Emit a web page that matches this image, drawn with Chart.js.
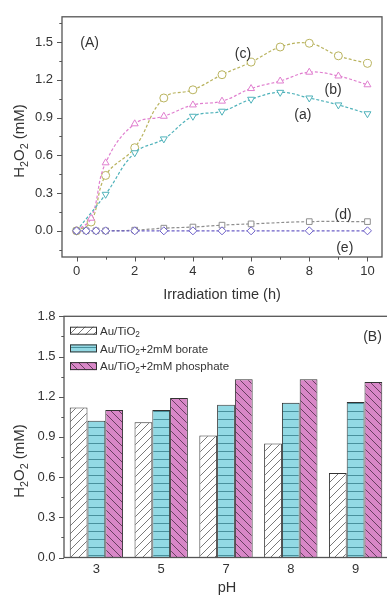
<!DOCTYPE html>
<html>
<head>
<meta charset="utf-8">
<script src="https://cdn.jsdelivr.net/npm/chart.js@4.4.1/dist/chart.umd.min.js"></script>
<style>
  html, body { margin: 0; padding: 0; background: #fff; overflow: hidden; }
  #wrap { position: relative; width: 387px; height: 598px; overflow: hidden; }
  #c1 { position: absolute; left: 0; top: 0; }
  #c2 { position: absolute; left: 0; top: 300px; }
</style>
</head>
<body>
<div id="wrap">
  <canvas id="c1" width="387" height="310"></canvas>
  <canvas id="c2" width="392" height="298"></canvas>
</div>
<script>
// ---------- DATA (panel A) ----------
const timeABC = [0, 0.5, 1, 2, 3, 4, 5, 6, 7, 8, 9, 10];
const timeA   = [0, 1, 2, 3, 4, 5, 6, 7, 8, 9, 10];
const timeDE  = [0, 0.33, 0.67, 1, 2, 3, 4, 5, 6, 8, 10];
const seriesA = [0, 0.29, 0.62, 0.73, 0.91, 0.95, 1.045, 1.10, 1.055, 1.00, 0.93];
const seriesB = [0, 0.10, 0.54, 0.85, 0.91, 1.00, 1.03, 1.13, 1.19, 1.26, 1.23, 1.16];
const seriesC = [0, 0.07, 0.44, 0.66, 1.055, 1.12, 1.24, 1.34, 1.46, 1.49, 1.39, 1.33];
const seriesD = [0, 0, 0, 0, 0.005, 0.021, 0.03, 0.045, 0.055, 0.073, 0.073];
const seriesE = [0, 0, 0, 0, 0, 0, 0, 0, 0, 0, 0];
const xTicksA = [0, 2, 4, 6, 8, 10];
const xMinorA = [1, 3, 5, 7, 9];
const yTicksA = [0, 0.3, 0.6, 0.9, 1.2, 1.5];
const yMinorA = [-0.15, 0.15, 0.45, 0.75, 1.05, 1.35, 1.65];

// ---------- DATA (panel B) ----------
const pHLabels = ['3', '5', '7', '8', '9'];
const barAuTiO2 = [1.12, 1.01, 0.91, 0.85, 0.63];
const barBorate = [1.02, 1.10, 1.14, 1.155, 1.16];
const barPhosphate = [1.10, 1.19, 1.33, 1.33, 1.31];
const yTicksB = [0, 0.3, 0.6, 0.9, 1.2, 1.5, 1.8];
const yMinorB = [0.15, 0.45, 0.75, 1.05, 1.35, 1.65];
const legendB = ['Au/TiO_2', 'Au/TiO_2+2mM borate', 'Au/TiO_2+2mM phosphate'];

const FONT = '"Liberation Sans", Arial, sans-serif';
const TXT = '#333';
const FRAME = '#555';

function pts(xs, ys) { return xs.map((x, i) => ({ x: x, y: ys[i] })); }

// rich text with "_d" subscripts
function drawRich(ctx, str, x, y, size, rot, align) {
  const parts = str.split(/(_\d)/).filter(s => s.length);
  const nf = size + 'px ' + FONT, sf = (size * 0.72) + 'px ' + FONT;
  ctx.save();
  ctx.translate(x, y);
  ctx.rotate(rot || 0);
  ctx.textBaseline = 'alphabetic';
  ctx.textAlign = 'left';
  let total = 0;
  const ws = parts.map(p => {
    const sub = p[0] === '_';
    ctx.font = sub ? sf : nf;
    const w = ctx.measureText(sub ? p.slice(1) : p).width;
    total += w;
    return w;
  });
  let cx = align === 'left' ? 0 : -total / 2;
  const base = size * 0.36;
  parts.forEach((p, i) => {
    const sub = p[0] === '_';
    ctx.font = sub ? sf : nf;
    ctx.fillStyle = TXT;
    ctx.fillText(sub ? p.slice(1) : p, cx, sub ? base + size * 0.22 : base);
    cx += ws[i];
  });
  ctx.restore();
}

function drawTicks(ctx, scale, values, len, horizontal, area) {
  ctx.save();
  ctx.strokeStyle = FRAME;
  ctx.lineWidth = 1;
  ctx.beginPath();
  values.forEach(v => {
    const p = Math.round(scale.getPixelForValue(v)) + 0.5;
    if (horizontal) { ctx.moveTo(p, area.bottom); ctx.lineTo(p, area.bottom + len); }
    else { ctx.moveTo(area.left, p); ctx.lineTo(area.left - len, p); }
  });
  ctx.stroke();
  ctx.restore();
}

function drawFrame(ctx, a) {
  ctx.save();
  ctx.strokeStyle = FRAME;
  ctx.lineWidth = 1.3;
  ctx.strokeRect(a.left, a.top, a.right - a.left, a.bottom - a.top);
  ctx.restore();
}

const noGrid = { display: false, drawTicks: false, tickLength: 0 };

// ---------- PANEL A ----------
const decoA = {
  id: 'decoA',
  afterDraw(chart) {
    const ctx = chart.ctx, a = chart.chartArea;
    const xs = chart.scales.x, ys = chart.scales.y;
    drawFrame(ctx, a);
    drawTicks(ctx, xs, xTicksA, 4.5, true, a);
    drawTicks(ctx, xs, xMinorA, 2.7, true, a);
    drawTicks(ctx, ys, yTicksA, 5, false, a);
    drawTicks(ctx, ys, yMinorA, 2.7, false, a);
    const notes = [['(A)', 0.45, 1.50], ['(c)', 5.72, 1.41], ['(b)', 8.82, 1.123],
                   ['(a)', 7.78, 0.932], ['(d)', 9.16, 0.134], ['(e)', 9.22, -0.129]];
    notes.forEach(n => drawRich(ctx, n[0], xs.getPixelForValue(n[1]), ys.getPixelForValue(n[2]), 14, 0));
    drawRich(ctx, 'Irradiation time (h)', (a.left + a.right) / 2, 294, 14.5, 0);
    drawRich(ctx, 'H_2O_2 (mM)', 19, 141, 15, -Math.PI / 2);
  }
};

function lineDs(label, data, color, style, rot) {
  return {
    label: label, data: data, borderColor: color, borderWidth: 1.2, borderDash: [3, 2],
    pointStyle: style, pointRotation: rot || 0, pointRadius: 4, pointBorderWidth: 1,
    pointBorderColor: color, pointBackgroundColor: '#fff', tension: 0.4, fill: false
  };
}

new Chart(document.getElementById('c1'), {
  type: 'line',
  data: {
    datasets: [
      lineDs('(e)', pts(timeDE, seriesE), '#6d60c8', 'rectRot'),
      lineDs('(d)', pts(timeDE, seriesD), '#8e8e8e', 'rect'),
      lineDs('(a)', pts(timeA, seriesA), '#4fb2ba', 'triangle', 180),
      lineDs('(b)', pts(timeABC, seriesB), '#e07fcf', 'triangle'),
      lineDs('(c)', pts(timeABC, seriesC), '#b9b35e', 'circle')
    ]
  },
  options: {
    responsive: false, animation: false, devicePixelRatio: 1,
    layout: { padding: { top: 14, right: 1, left: 0, bottom: 0 } },
    plugins: { legend: { display: false }, tooltip: { enabled: false } },
    scales: {
      x: {
        type: 'linear', min: -0.5, max: 10.5,
        grid: noGrid, border: { display: false },
        afterBuildTicks: s => { s.ticks = xTicksA.map(v => ({ value: v })); },
        afterFit: s => { s.height = 53; },
        ticks: { font: { family: FONT, size: 13 }, color: TXT, padding: 7, maxRotation: 0,
                 callback: v => String(v) }
      },
      y: {
        type: 'linear', min: -0.208, max: 1.70,
        grid: noGrid, border: { display: false },
        afterBuildTicks: s => { s.ticks = yTicksA.map(v => ({ value: v })); },
        afterFit: s => { s.width = 62; },
        ticks: { font: { family: FONT, size: 13 }, color: TXT, padding: 9,
                 callback: v => Number(v).toFixed(1) }
      }
    }
  },
  plugins: [decoA]
});

// ---------- PANEL B ----------
const ctx2 = document.getElementById('c2').getContext('2d');
function makePattern(bg, line, kind) {
  const t = document.createElement('canvas');
  t.width = 8; t.height = 8;
  const x = t.getContext('2d');
  x.fillStyle = bg; x.fillRect(0, 0, 8, 8);
  x.strokeStyle = line; x.lineWidth = 0.9;
  x.beginPath();
  if (kind === '/') {
    x.moveTo(-1, 9); x.lineTo(9, -1);
    x.moveTo(-1, 1); x.lineTo(1, -1);
    x.moveTo(7, 9); x.lineTo(9, 7);
  } else if (kind === '\\') {
    x.moveTo(-1, -1); x.lineTo(9, 9);
    x.moveTo(7, -1); x.lineTo(9, 1);
    x.moveTo(-1, 7); x.lineTo(1, 9);
  } else {
    x.moveTo(0, 7.5); x.lineTo(8, 7.5);
  }
  x.stroke();
  return ctx2.createPattern(t, 'repeat');
}
const patWhite = makePattern('#ffffff', '#6a6a6a', '/');
const patTeal = makePattern('#92d9e4', '#3f8893', '-');
const patPink = makePattern('#d887c7', '#5b3656', '\\');

const decoB = {
  id: 'decoB',
  afterDraw(chart) {
    const ctx = chart.ctx, a = chart.chartArea;
    const ys = chart.scales.y;
    drawFrame(ctx, a);
    drawTicks(ctx, ys, yTicksB, 5, false, a);
    drawTicks(ctx, ys, yMinorB, 2.7, false, a);
    // legend
    chart.data.datasets.forEach((ds, i) => {
      const cy = 30.7 + i * 17.7;
      ctx.save();
      ctx.fillStyle = ds.backgroundColor;
      ctx.fillRect(70, cy - 4, 27, 8);
      ctx.strokeStyle = '#333';
      ctx.lineWidth = 1;
      ctx.strokeRect(70.5, cy - 3.5, 26, 7);
      ctx.restore();
      drawRich(ctx, legendB[i], 100, cy, 11.5, 0, 'left');
    });
    drawRich(ctx, '(B)', 372.5, 36, 14, 0);
    drawRich(ctx, 'pH', (a.left + a.right) / 2 + 1, 287, 14.5, 0);
    drawRich(ctx, 'H_2O_2 (mM)', 19, 161, 15, -Math.PI / 2);
  }
};

function barDs(label, data, pat) {
  return { label: label, data: data, backgroundColor: pat, borderColor: '#333', borderWidth: 1,
           barPercentage: 1, categoryPercentage: 0.823 };
}

new Chart(ctx2, {
  type: 'bar',
  data: {
    labels: pHLabels,
    datasets: [
      barDs('Au/TiO2', barAuTiO2, patWhite),
      barDs('Au/TiO2+2mM borate', barBorate, patTeal),
      barDs('Au/TiO2+2mM phosphate', barPhosphate, patPink)
    ]
  },
  options: {
    responsive: false, animation: false, devicePixelRatio: 1,
    layout: { padding: { top: 15, right: 4, left: 0, bottom: 0 } },
    plugins: { legend: { display: false }, tooltip: { enabled: false } },
    scales: {
      x: {
        grid: noGrid, border: { display: false },
        afterFit: s => { s.height = 40.5; },
        ticks: { font: { family: FONT, size: 13 }, color: TXT, padding: 4, maxRotation: 0 }
      },
      y: {
        min: 0, max: 1.8,
        grid: noGrid, border: { display: false },
        afterBuildTicks: s => { s.ticks = yTicksB.map(v => ({ value: v })); },
        afterFit: s => { s.width = 64; },
        ticks: { font: { family: FONT, size: 13 }, color: TXT, padding: 8.5,
                 callback: v => Number(v).toFixed(1) }
      }
    }
  },
  plugins: [decoB]
});
</script>
</body>
</html>
